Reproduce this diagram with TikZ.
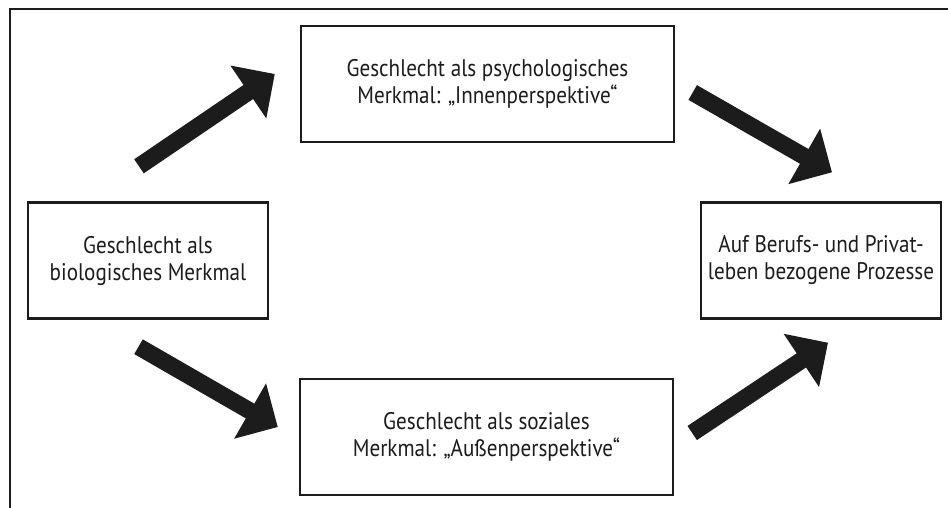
\documentclass[tikz,border=0pt]{standalone}
\usepackage{fontspec}
\setmainfont{PT Sans}[FakeStretch=0.88]
\usepackage{tikz}
\usetikzlibrary{arrows.meta}
\usetikzlibrary{calc}
\usepackage{xcolor}
\definecolor{myblack}{HTML}{1C1C1C}
\tikzset{x=0.5pt, y=-0.5pt, every text node part/.style={align=center, text=myblack, font={\fontsize{12}{13.5}\selectfont}}}
\tikzstyle{block} = [draw=myblack, fill=white, line width=1.2pt, inner sep=0pt, minimum height=58pt]
\tikzstyle{ln} = [draw=myblack, line width=8.5pt, -{Triangle[width=31pt, length=16pt]}]

\begin{document}
\begin{tikzpicture}[]
  \useasboundingbox (0,0) rectangle (948,508);
  \draw[line width=1.2pt, myblack] (10,508) -- (10,9) -- (948,9);
  \node[block, minimum width=120pt] (bio) at (148,260.5) {Geschlecht als\\biologisches Merkmal};
  \node[block, minimum width=186.5pt] (psych) at (487.5,84) {Geschlecht als psychologisches\\Merkmal: „Innenperspektive“};
  \node[block, minimum width=186.5pt] (soz) at (486.5,437) {Geschlecht als soziales\\Merkmal: „Außenperspektive“};
  \node[block, minimum width=120pt] (proc) at (821,260.5) {Auf Berufs- und Privat-\\leben bezogene Prozesse};
  \draw[ln] ([shift={(-9,-35)}]bio.north) -- ([shift={(-25,-10)}]psych.west);
  \draw[ln] ([shift={(17.5,8.5)}]psych.east) -- ([shift={(11,-29)}]proc.north);
  \draw[ln] ([shift={(-9.5,27)}]bio.south) -- ([shift={(-21,-10)}]soz.west);
  \draw[ln] ([shift={(18,-4)}]soz.east) -- ([shift={(7,23)}]proc.south);
\end{tikzpicture}
\end{document}
